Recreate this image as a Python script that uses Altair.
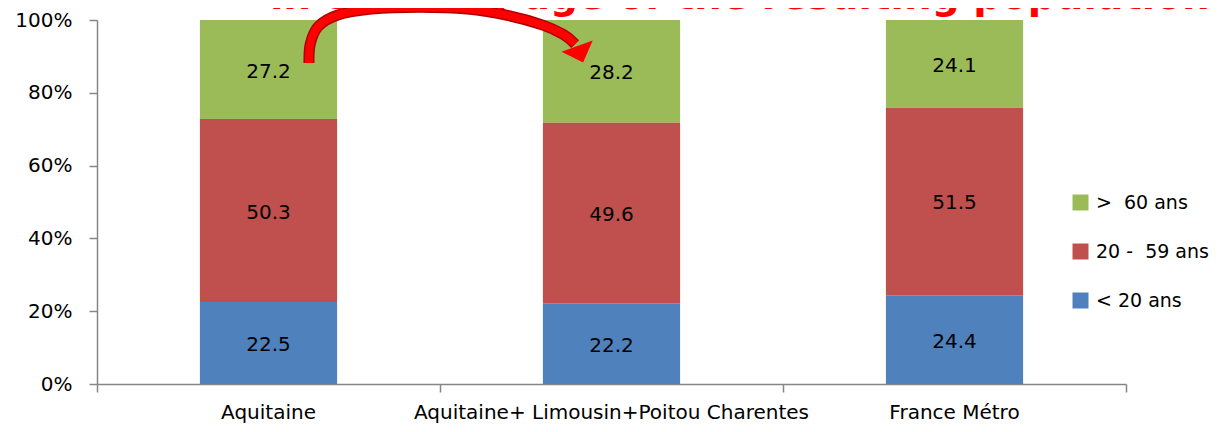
import altair as alt
import pandas as pd

# ---------------- data ----------------
regions = ["Aquitaine", "Aquitaine+ Limousin+Poitou Charentes", "France Métro"]
age_groups = [">\u00a0 60 ans", "20 -\u00a0 59 ans", "< 20 ans"]
group_colors = ["#9BBB59", "#C0504D", "#4F81BD"]
stack_rank = [3, 2, 1]

share_under20 = [22.5, 22.2, 24.4]
share_20_59 = [50.3, 49.6, 51.5]
share_over60 = [27.2, 28.2, 24.1]

title_text = "in terms of age of the resulting population"

# curved arrow annotation (x in category units: 0..3, y in percent)
arrow_x = [0.618, 0.622, 0.645, 0.700, 0.800, 0.940, 1.080, 1.200, 1.300, 1.360, 1.394]
arrow_y = [88.2, 93.5, 98.2, 101.3, 103.0, 103.5, 103.0, 101.2, 98.6, 96.0, 93.4]
arrow_head_x = [1.408]
arrow_head_y = [90.7]

# ---------------- tables ----------------
rows = []
series = [share_over60, share_20_59, share_under20]
for i, r in enumerate(regions):
    for g, vals, rk in zip(age_groups, series, stack_rank):
        rows.append({"region": r, "group": g, "value": vals[i], "rank": rk})
df = pd.DataFrame(rows)

arrow_df = pd.DataFrame({"ax": arrow_x, "ay": arrow_y, "idx": list(range(len(arrow_x)))})
head_df = pd.DataFrame({"ax": arrow_head_x, "ay": arrow_head_y})

FONT = "DejaVu Sans"
GREY = "#868686"

band_scale = alt.Scale(domain=regions, paddingInner=0.6, paddingOuter=0.3)
y_scale = alt.Scale(domain=[0, 100], nice=False)
q_scale = alt.Scale(domain=[0, 3], nice=False, zero=False)

y_axis = alt.Axis(values=[0, 20, 40, 60, 80, 100], labelExpr="datum.value + '%'",
                  title=None, grid=False, tickSize=8, tickColor=GREY,
                  domainColor=GREY, domainWidth=1.5, tickWidth=1.5,
                  labelFontSize=20, labelFont=FONT, labelColor="black",
                  labelPadding=17)

bars = alt.Chart(df).mark_bar().encode(
    x=alt.X("region:N", sort=regions, scale=band_scale,
            axis=alt.Axis(title=None, labelAngle=0, ticks=False, domain=False,
                          labelFontSize=20, labelFont=FONT, labelColor="black",
                          labelPadding=18, labelLimit=0)),
    y=alt.Y("value:Q", stack="zero", scale=y_scale, axis=y_axis),
    color=alt.Color("group:N", scale=alt.Scale(domain=age_groups, range=group_colors),
                    legend=alt.Legend(title=None, orient="none", legendX=974, legendY=173,
                                      symbolType="square", symbolSize=256,
                                      symbolStrokeWidth=0, labelFontSize=19,
                                      labelFont=FONT, labelColor="black",
                                      rowPadding=29, labelOffset=6, labelLimit=0)),
    order=alt.Order("rank:Q", sort="ascending"),
)

labels = alt.Chart(df).transform_stack(
    stack="value", groupby=["region"], as_=["v0", "v1"],
    sort=[alt.SortField("rank", order="ascending")]
).transform_calculate(
    mid="(datum.v0 + datum.v1) / 2"
).mark_text(font=FONT, fontSize=20, color="black", dy=2).encode(
    x=alt.X("region:N", sort=regions, scale=band_scale, axis=None),
    y=alt.Y("mid:Q", scale=y_scale, axis=y_axis),
    text=alt.Text("value:Q", format=".1f"),
)

arrow_edge = alt.Chart(arrow_df).mark_line(
    color="#B00000", strokeWidth=11, interpolate="cardinal", clip=False
).encode(
    x=alt.X("ax:Q", scale=q_scale,
            axis=alt.Axis(values=[0, 1, 2, 3], labels=False, tickSize=8, tickColor=GREY,
                          tickWidth=1.5, domainColor=GREY, domainWidth=1.5, grid=False,
                          title=None, orient="bottom")),
    y=alt.Y("ay:Q", scale=y_scale, axis=y_axis),
    order="idx:Q",
)

arrow = alt.Chart(arrow_df).mark_line(
    color="#FF0000", strokeWidth=8, interpolate="cardinal", clip=False, dy=-1.5
).encode(
    x=alt.X("ax:Q", scale=q_scale, axis=None),
    y=alt.Y("ay:Q", scale=y_scale, axis=y_axis),
    order="idx:Q",
)

head = alt.Chart(head_df).mark_point(
    shape="M-1,-0.5L1,-0.5L0,0.55Z", size=1100, filled=True, color="#FF0000",
    opacity=1, strokeWidth=0, angle=340, clip=False
).encode(
    x=alt.X("ax:Q", scale=q_scale, axis=None),
    y=alt.Y("ay:Q", scale=y_scale, axis=y_axis),
)

title = alt.Chart(pd.DataFrame({"t": [title_text]})).mark_text(
    font=FONT, fontSize=39, fontWeight="bold", color="#FF0000",
    align="left", baseline="alphabetic"
).encode(
    x=alt.value(173), y=alt.value(-11), text="t:N"
)

chart = alt.layer(bars, labels, arrow_edge, arrow, head, title).resolve_scale(
    x="independent"
).properties(
    width=1029, height=364, autosize="none",
    padding={"left": 89, "top": 12, "right": 84, "bottom": 40},
).configure_view(stroke=None)

chart.save("out.html", embed_options={"renderer": "svg", "actions": False})
